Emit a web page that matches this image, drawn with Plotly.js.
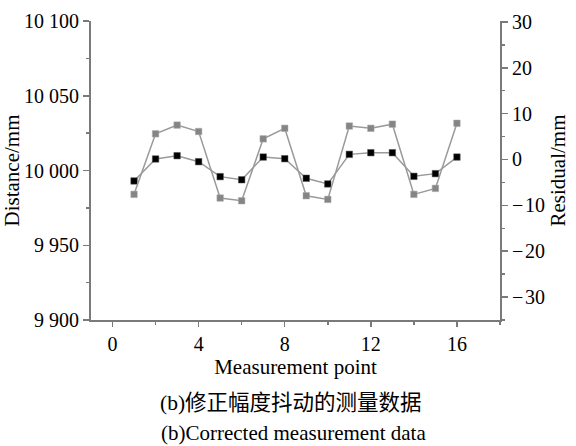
<!DOCTYPE html>
<html>
<head>
<meta charset="utf-8">
<script src="https://cdn.plot.ly/plotly-3.0.1.min.js"></script>
<style>html,body{margin:0;padding:0;background:#fff;}#chart{width:576px;height:446px;}</style>
</head>
<body>
<div id="chart"></div>
<script>
// Data
const points = [1,2,3,4,5,6,7,8,9,10,11,12,13,14,15,16];
const distance = [9993.0,10007.7,10009.9,10005.9,9995.9,9993.8,10009.0,10007.9,9994.8,9991.0,10010.8,10011.9,10011.9,9996.1,9997.9,10009.0];
const residual = [-7.6,5.6,7.5,6.1,-8.4,-9.0,4.5,6.8,-7.9,-8.7,7.3,6.8,7.7,-7.6,-6.3,7.9];

const xTickVals = [0,4,8,12,16];
const xTickText = ['0','4','8','12','16'];
const yTickVals = [9900,9950,10000,10050,10100];
const yTickText = ['9 900','9 950','10 000','10 050','10 100'];
const y2TickVals = [-30,-20,-10,0,10,20,30];
const y2TickText = ['\u2212\u200a30','\u2212\u200a20','\u2212\u200a10','0','10','20','30'];

const xTitle = 'Measurement point';
const yTitle = 'Distance/mm';
const y2Title = 'Residual/mm';
const captionCN = '(b)修正幅度抖动的测量数据';
const captionEN = '(b)Corrected measurement data';

const FONT = 'Liberation Serif, Times New Roman, serif';
const CJKFONT = 'Liberation Serif, Noto Sans CJK SC, serif';
const AX = '#7a7a7a';

const traces = [
  {x: points, y: distance, name: 'Distance', type: 'scatter', mode: 'lines+markers',
   line: {color: '#9a9a9a', width: 1.5},
   marker: {symbol: 'square', size: 6.5, color: '#000000', line: {color: '#555', width: 0.5}},
   xaxis: 'x', yaxis: 'y'},
  {x: points, y: residual, name: 'Residual', type: 'scatter', mode: 'lines+markers',
   line: {color: '#9a9a9a', width: 1.5},
   marker: {symbol: 'square', size: 6.5, color: '#858585', line: {color: '#aaa', width: 0.5}},
   xaxis: 'x', yaxis: 'y2'}
];

const layout = {
  width: 576, height: 446,
  margin: {l: 91, r: 76, t: 21, b: 126},
  paper_bgcolor: '#fff', plot_bgcolor: '#fff',
  showlegend: false,
  font: {family: FONT, size: 20, color: '#000'},
  xaxis: {
    range: [-1, 18], showgrid: false, zeroline: false,
    showline: true, linecolor: AX, linewidth: 2,
    ticks: 'outside', ticklen: 5, tickwidth: 1.5, tickcolor: AX,
    tickvals: xTickVals, ticktext: xTickText,
    minor: {dtick: 2, tick0: 0, ticks: 'outside', ticklen: 3, tickwidth: 1.5, tickcolor: AX},
    tickfont: {family: FONT, size: 20},
    title: {text: xTitle, font: {family: FONT, size: 21}, standoff: 5}
  },
  xaxis2: {
    overlaying: 'x', side: 'top', anchor: 'y', matches: 'x',
    range: [-1, 18], showgrid: false, zeroline: false,
    showline: true, linecolor: AX, linewidth: 2,
    ticks: 'inside', ticklen: 4, tickwidth: 1.5, tickcolor: AX,
    tickvals: xTickVals, showticklabels: false,
    minor: {dtick: 2, tick0: 0, ticks: 'inside', ticklen: 3, tickwidth: 1.5, tickcolor: AX}
  },
  yaxis: {
    range: [9900, 10100], showgrid: false, zeroline: false,
    showline: true, linecolor: AX, linewidth: 2,
    ticks: 'outside', ticklen: 6, tickwidth: 1.5, tickcolor: AX,
    tickvals: yTickVals, ticktext: yTickText,
    minor: {dtick: 25, tick0: 9900, ticks: 'outside', ticklen: 3, tickwidth: 1.5, tickcolor: AX},
    tickfont: {family: FONT, size: 20},
    title: {text: yTitle, font: {family: FONT, size: 21}, standoff: 2}
  },
  yaxis2: {
    overlaying: 'y', side: 'right', anchor: 'x',
    range: [-35, 30.2], showgrid: false, zeroline: false,
    showline: true, linecolor: AX, linewidth: 2,
    ticks: 'outside', ticklen: 6, tickwidth: 1.5, tickcolor: AX,
    tickvals: y2TickVals, ticktext: y2TickText,
    minor: {dtick: 5, tick0: 0, ticks: 'outside', ticklen: 3, tickwidth: 1.5, tickcolor: AX},
    tickfont: {family: FONT, size: 20},
    title: {text: y2Title, font: {family: FONT, size: 21}, standoff: 6}
  },
  annotations: [
    {text: captionCN, xref: 'paper', yref: 'paper', x: 0.49, y: -0.278, xanchor: 'center', yanchor: 'middle',
     showarrow: false, font: {family: CJKFONT, size: 21.5, color: '#000'}},
    {text: captionEN, xref: 'paper', yref: 'paper', x: 0.495, y: -0.378, xanchor: 'center', yanchor: 'middle',
     showarrow: false, font: {family: FONT, size: 21, color: '#000'}}
  ]
};

Plotly.newPlot('chart', traces, layout, {staticPlot: true, displayModeBar: false});
</script>
</body>
</html>
